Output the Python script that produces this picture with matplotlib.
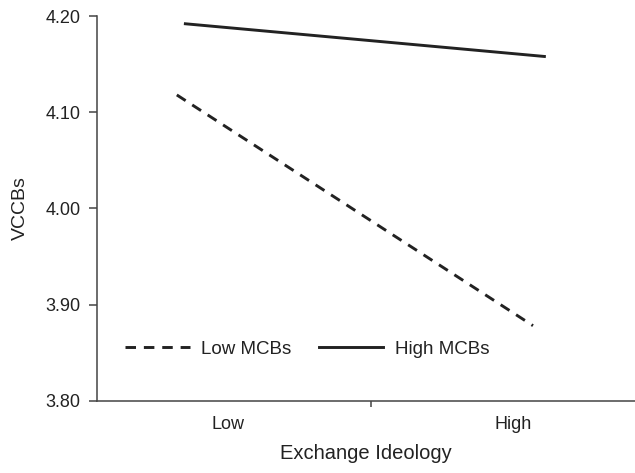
import matplotlib.pyplot as plt

plt.rcParams['font.family'] = ['Liberation Sans', 'DejaVu Sans']

# x positions of the two ends of each line (Low = 0, High = 1)
low_mcb_x = [-0.18, 1.07]
low_mcb_y = [4.118, 3.878]
high_mcb_x = [-0.15, 1.11]
high_mcb_y = [4.192, 4.158]

y_ticks = [3.80, 3.90, 4.00, 4.10, 4.20]
x_labels = ['Low', 'High']

ink = '#222222'

fig = plt.figure(figsize=(6.35, 4.73), dpi=100)
ax = fig.add_axes([0.1528, 0.1529, 0.8472, 0.8131])

ax.plot(low_mcb_x, low_mcb_y, color=ink, lw=2.1, dashes=(3.6, 2.7), label='Low MCBs')
ax.plot(high_mcb_x, high_mcb_y, color=ink, lw=2.1, label='High MCBs')

ax.set_xlim(-0.46, 1.428)
ax.set_ylim(3.80, 4.20)

ax.set_yticks(y_ticks)
ax.set_yticklabels([f'{v:.2f}' for v in y_ticks])
ax.tick_params(axis='y', length=6, width=1.1, color='#444444', pad=6, labelsize=13, labelcolor=ink)

# one tick mark between the groups, group names without marks
ax.set_xticks([0.5])
ax.set_xticklabels([''])
ax.set_xticks([0, 1], minor=True)
ax.set_xticklabels(x_labels, minor=True)
ax.tick_params(axis='x', which='major', length=4.5, width=1.1, color='#444444')
ax.tick_params(axis='x', which='minor', length=0, pad=11, labelsize=13, labelcolor=ink)

for side in ['top', 'right']:
    ax.spines[side].set_visible(False)
for side in ['left', 'bottom']:
    ax.spines[side].set_color('#444444')
    ax.spines[side].set_linewidth(1.1)

ax.set_xlabel('Exchange Ideology', fontsize=14.5, color=ink, labelpad=8)
ax.set_ylabel('VCCBs', fontsize=14, color=ink, labelpad=12)

ax.legend(loc='center left', bbox_to_anchor=(0.052, 0.134), ncol=2, frameon=False,
          fontsize=13.5, handlelength=3.45, handletextpad=0.62, columnspacing=1.45,
          borderaxespad=0, borderpad=0, labelcolor=ink)

fig.savefig('out.png', dpi=100)
